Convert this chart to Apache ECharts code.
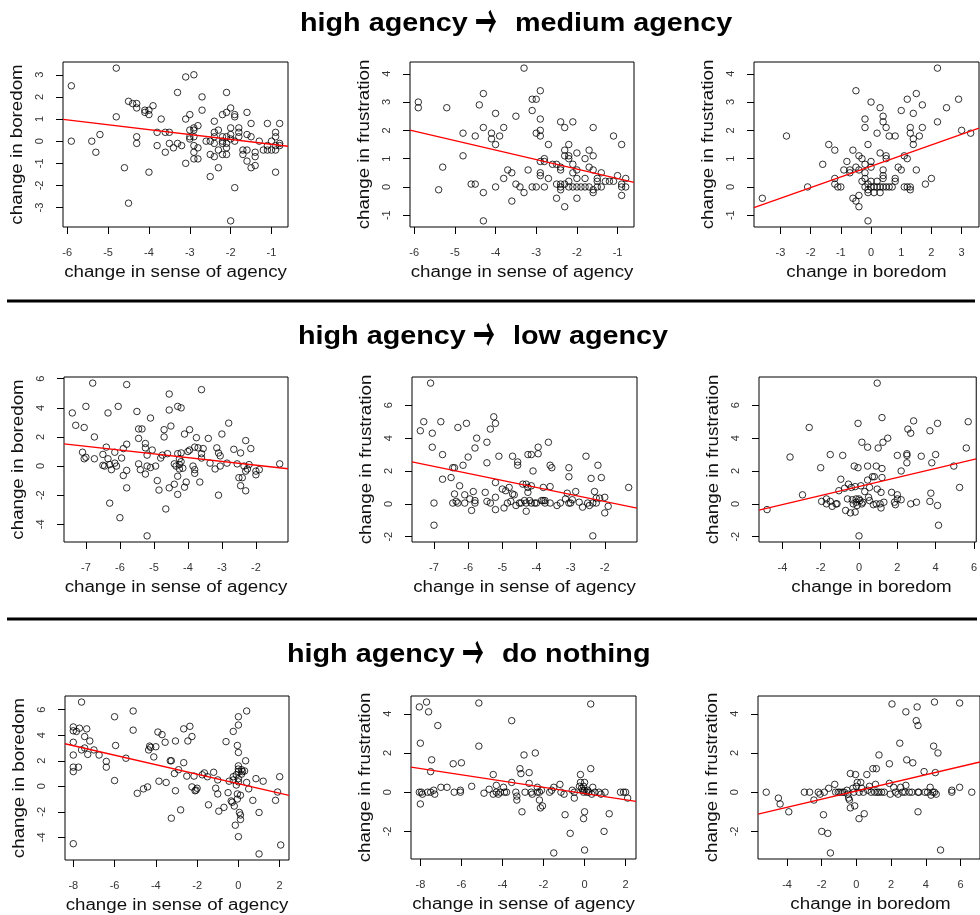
<!DOCTYPE html>
<html><head><meta charset="utf-8">
<script src="https://cdn.jsdelivr.net/npm/echarts@6/dist/echarts.min.js"></script>
<style>html,body{margin:0;padding:0;background:#fff}#c{width:980px;height:915px}</style>
</head><body><div id="c"></div>
<script>
// ---------- data ----------
const sectionStarts = ["high agency", "high agency", "high agency"];
const sectionArrow = "\u2192";
const sectionEnds = ["medium agency", "low agency", "do nothing"];
const xNames = ["change in sense of agency", "change in sense of agency", "change in boredom"];
const yNames = ["change in boredom", "change in frustration", "change in frustration"];

// row 1: high -> medium
const medAgencyBoredom = [[-5.9,2.5],[-5.9,0],[-4.8,3.3],[-4.8,1.1],[-5.4,0],[-5.3,-0.5],[-5.2,0.3],[-4.6,-1.2],[-4.5,1.8],[-4.5,-2.8],[-4.4,1.7],[-4.3,1.7],[-4.3,1.5],[-4.3,0.2],[-4.3,-0.1],[-4.1,1.4],[-4.1,1.3],[-4.0,1.4],[-4.0,1.2],[-3.9,1.6],[-4.0,-1.4],[-3.8,0.4],[-3.8,-0.2],[-3.7,1.0],[-3.6,0.4],[-3.6,-0.5],[-3.5,0.4],[-3.5,-0.1],[-3.4,-0.3],[-3.3,2.2],[-3.3,-0.1],[-3.2,-0.2],[-3.1,2.9],[-3.1,1.0],[-3.1,-1.0],[-3.0,1.2],[-3.0,0.5],[-3.0,0.2],[-3.0,0.1],[-2.9,3.0],[-2.9,0.6],[-2.9,0.5],[-2.9,0.2],[-2.9,-0.2],[-2.9,-0.5],[-2.9,-0.8],[-2.8,0.7],[-2.8,-0.3],[-2.8,-0.8],[-2.7,2.0],[-2.7,1.4],[-2.6,0],[-2.5,0],[-2.5,-0.6],[-2.5,-1.6],[-2.4,0.9],[-2.4,0.4],[-2.4,0.2],[-2.4,-0.1],[-2.4,-0.7],[-2.3,0.5],[-2.3,-0.4],[-2.3,-1.2],[-2.2,1.2],[-2.2,0.2],[-2.2,0],[-2.2,-0.1],[-2.2,-0.6],[-2.1,2.2],[-2.1,1.3],[-2.1,0.2],[-2.1,-0.1],[-2.1,-0.3],[-2.1,-0.6],[-2.0,1.5],[-2.0,0.6],[-2.0,0.3],[-2.0,0.1],[-2.0,-3.6],[-1.9,1.2],[-1.9,1.1],[-1.9,0],[-1.9,-2.1],[-1.8,0.6],[-1.8,0.4],[-1.8,0.2],[-1.7,-0.4],[-1.7,-0.6],[-1.6,1.3],[-1.6,0.3],[-1.6,-0.4],[-1.6,-0.9],[-1.5,0.8],[-1.5,0.2],[-1.5,-1.2],[-1.4,-0.5],[-1.4,-0.7],[-1.4,-1.1],[-1.3,0],[-1.2,-0.4],[-1.1,0.8],[-1.1,-0.2],[-1.1,-0.4],[-1.0,0],[-1.0,-0.4],[-0.9,0.4],[-0.9,0.2],[-0.9,-0.2],[-0.9,-0.4],[-0.9,-1.4],[-0.8,0.8],[-0.8,-0.1],[-0.8,-0.2]];
const medAgencyFrustration = [[-5.9,3.0],[-5.9,2.8],[-5.2,2.8],[-5.3,0.7],[-5.4,-0.1],[-4.8,1.9],[-4.8,1.1],[-4.6,0.1],[-4.5,0.1],[-4.5,1.8],[-4.4,2.9],[-4.3,3.3],[-4.3,2.1],[-4.3,-0.2],[-4.3,-1.2],[-4.1,1.9],[-4.1,1.7],[-4.0,2.6],[-4.0,1.5],[-4.0,0],[-3.9,1.8],[-3.8,2.1],[-3.8,0.3],[-3.7,0.6],[-3.6,0.5],[-3.6,-0.5],[-3.5,2.5],[-3.5,0.1],[-3.4,0],[-3.3,4.2],[-3.3,-0.2],[-3.2,0.6],[-3.1,3.1],[-3.0,3.1],[-3.1,2.7],[-3.1,0],[-3.0,0],[-3.0,1.9],[-2.9,3.4],[-2.9,2.4],[-2.9,2.0],[-2.9,1.8],[-2.9,0.9],[-2.9,0.5],[-2.9,0.4],[-2.8,1.0],[-2.8,0.9],[-2.8,0],[-2.7,1.5],[-2.7,0.3],[-2.6,0.8],[-2.5,0.8],[-2.5,0.1],[-2.5,-0.4],[-2.4,2.3],[-2.4,0.7],[-2.4,0.6],[-2.4,0.1],[-2.4,0],[-2.4,-0.1],[-2.3,2.1],[-2.3,1.3],[-2.3,1.1],[-2.3,0.1],[-2.3,-0.7],[-2.2,1.5],[-2.2,1.1],[-2.2,1.0],[-2.2,0.2],[-2.2,0],[-2.1,2.3],[-2.1,0.8],[-2.1,0.5],[-2.1,0],[-2.0,1.2],[-2.0,0.6],[-2.0,0.3],[-2.0,0],[-2.0,-0.4],[-1.9,0],[-1.8,1.0],[-1.8,0.3],[-1.8,0],[-1.7,1.3],[-1.7,0.7],[-1.7,0],[-1.6,2.1],[-1.6,1.1],[-1.6,0.6],[-1.6,-0.1],[-1.6,-0.2],[-1.5,0.3],[-1.5,0.2],[-1.5,0],[-1.4,0.5],[-1.4,0],[-1.3,0.2],[-1.2,0.2],[-1.1,1.8],[-1.1,0.2],[-1.0,0.4],[-0.9,1.5],[-0.9,0.1],[-0.9,0],[-0.9,-0.3],[-0.8,0.3],[-0.8,0]];
const medBoredomFrustration = [[-3.6,-0.4],[-2.8,1.8],[-2.1,0],[-1.6,0.8],[-1.4,1.5],[-1.2,1.3],[-1.2,0.3],[-1.2,0.1],[-1.1,0],[-1.0,0],[-0.9,0.6],[-0.8,0.9],[-0.7,0.6],[-0.7,0.5],[-0.6,1.3],[-0.6,-0.4],[-0.5,3.4],[-0.5,0.7],[-0.5,-0.5],[-0.4,1.1],[-0.4,0.6],[-0.4,-0.3],[-0.4,-0.7],[-0.3,1.0],[-0.3,0.2],[-0.2,2.4],[-0.2,2.1],[-0.2,0.8],[-0.2,0.5],[-0.2,0.3],[-0.2,0],[-0.1,1.5],[-0.1,0.1],[-0.1,-0.1],[-0.1,-0.2],[-0.1,-1.2],[0,3.0],[0,0.9],[0,0.7],[0,0.2],[0,0],[0.1,0],[0.1,-0.2],[0.2,1.9],[0.2,0.2],[0.2,0],[0.3,2.8],[0.3,1.2],[0.3,0],[0.3,-0.2],[0.4,2.5],[0.4,2.3],[0.4,0.6],[0.4,0.4],[0.4,0.3],[0.4,0],[0.5,2.1],[0.5,1.1],[0.5,1.0],[0.5,0],[0.6,1.8],[0.6,0],[0.7,0],[0.8,1.8],[0.8,0.3],[0.8,0.2],[0.9,0.7],[1.0,2.7],[1.0,0.6],[1.1,1.1],[1.1,0],[1.2,3.1],[1.2,1.0],[1.2,0],[1.3,2.1],[1.3,1.9],[1.3,0],[1.3,-0.1],[1.4,2.6],[1.4,1.7],[1.4,1.5],[1.5,3.3],[1.5,0.6],[1.6,1.8],[1.7,2.9],[1.7,2.1],[1.8,0.1],[2.0,0.3],[2.2,4.2],[2.2,2.3],[2.5,2.8],[2.9,3.1],[3.0,2.0],[3.3,1.9]];

// row 2: high -> low
const lowAgencyBoredom = [[-7.4,3.65],[-7.3,2.8],[-7.1,0.95],[-7.05,0.5],[-7.05,2.65],[-7.0,4.1],[-7.0,0.6],[-6.8,5.7],[-6.75,2.0],[-6.75,0.5],[-6.5,0.8],[-6.5,0.05],[-6.45,0],[-6.4,1.3],[-6.35,3.65],[-6.35,0.5],[-6.3,0.1],[-6.3,-2.55],[-6.25,-0.25],[-6.15,0.95],[-6.15,0.2],[-6.1,0],[-6.05,4.1],[-6.0,-3.55],[-5.95,0.55],[-5.9,-0.65],[-5.9,1.2],[-5.8,5.6],[-5.8,1.5],[-5.8,-0.3],[-5.8,-1.5],[-5.5,3.75],[-5.45,2.55],[-5.35,2.55],[-5.45,1.9],[-5.45,0.15],[-5.4,-0.25],[-5.25,1.25],[-5.25,1.55],[-5.2,0.75],[-5.2,0],[-5.25,-0.55],[-5.2,-4.8],[-5.1,3.3],[-5.1,-0.1],[-5.05,1.1],[-4.95,0],[-4.9,-1.0],[-4.85,-1.65],[-4.8,0.55],[-4.75,0.75],[-4.7,2.0],[-4.7,2.5],[-4.65,-2.95],[-4.6,0.85],[-4.55,-1.5],[-4.55,4.95],[-4.55,3.85],[-4.5,2.75],[-4.4,-1.25],[-4.4,0.15],[-4.35,0],[-4.3,4.1],[-4.3,-0.7],[-4.3,0.85],[-4.3,-1.95],[-4.25,0.5],[-4.25,0.1],[-4.25,-0.2],[-4.2,4.0],[-4.2,0.9],[-4.2,0.3],[-4.15,-0.15],[-4.1,-1.45],[-4.1,2.2],[-4.05,-1.1],[-4.0,1.0],[-3.95,1.1],[-3.95,2.5],[-3.85,0],[-3.8,-0.25],[-3.8,-0.5],[-3.8,1.3],[-3.75,1.95],[-3.7,1.25],[-3.65,-1.1],[-3.6,0.55],[-3.6,0.85],[-3.6,5.25],[-3.55,1.2],[-3.4,1.9],[-3.35,0.2],[-3.2,-0.2],[-3.15,1.25],[-3.1,0.9],[-3.1,-2.0],[-3.05,0.7],[-3.05,0],[-3.0,2.2],[-2.85,0.2],[-2.8,2.95],[-2.65,1.15],[-2.55,0.15],[-2.5,-0.8],[-2.45,-1.35],[-2.45,0.9],[-2.4,-0.8],[-2.35,0],[-2.3,1.75],[-2.3,-1.7],[-2.3,-0.35],[-2.25,-0.2],[-2.2,0.1],[-2.15,1.2],[-2.0,-0.35],[-2.0,-0.6],[-1.9,-0.25],[-1.3,0.15]];
const lowAgencyFrustration = [[-7.1,7.35],[-7.4,4.45],[-7.3,5.0],[-7.05,4.3],[-7.05,3.45],[-7.0,0.05],[-7.0,-1.3],[-6.8,5.0],[-6.75,3.0],[-6.75,1.5],[-6.5,1.6],[-6.45,2.2],[-6.45,0.05],[-6.4,2.2],[-6.4,0.6],[-6.35,0.15],[-6.3,0.05],[-6.3,4.65],[-6.25,1.1],[-6.15,2.35],[-6.1,0.55],[-6.1,0.05],[-6.05,4.9],[-6.0,2.85],[-5.95,0.3],[-5.9,-0.4],[-5.85,0.75],[-5.8,0.2],[-5.8,0.05],[-5.8,3.4],[-5.75,4.0],[-5.5,0.7],[-5.45,2.5],[-5.45,3.75],[-5.45,0.15],[-5.35,0.05],[-5.35,4.55],[-5.25,5.3],[-5.2,4.9],[-5.2,1.3],[-5.2,0.4],[-5.2,-0.35],[-5.1,2.9],[-5.0,0.9],[-4.9,0.8],[-4.95,-0.25],[-4.85,0.05],[-4.8,1.0],[-4.7,2.9],[-4.7,0.6],[-4.65,0.55],[-4.75,0.15],[-4.6,-0.1],[-4.55,2.55],[-4.55,2.35],[-4.5,0.05],[-4.45,0.05],[-4.4,1.2],[-4.3,1.2],[-4.35,0.2],[-4.3,0.05],[-4.3,-0.45],[-4.25,1.0],[-4.25,0.7],[-4.25,3.0],[-4.2,0.2],[-4.15,0.05],[-4.15,3.0],[-4.15,1.1],[-4.1,2.0],[-4.05,0.05],[-4.0,0.05],[-3.95,3.05],[-3.95,3.45],[-3.85,0.2],[-3.8,0.2],[-3.8,1.0],[-3.75,0.2],[-3.75,0.05],[-3.65,3.75],[-3.6,2.35],[-3.6,1.05],[-3.6,0.05],[-3.55,2.2],[-3.4,-0.1],[-3.3,0.05],[-3.15,0.3],[-3.1,0.65],[-3.05,2.2],[-3.05,1.65],[-3.05,0.05],[-3.0,0.05],[-2.95,0.25],[-2.85,0.75],[-2.75,0.1],[-2.65,-0.2],[-2.5,0.05],[-2.45,-0.1],[-2.55,2.9],[-2.4,1.55],[-2.35,-1.95],[-2.35,0.05],[-2.3,0.75],[-2.25,0.35],[-2.2,2.35],[-2.25,0.05],[-2.15,0.35],[-2.1,1.6],[-2.0,-0.55],[-2.0,0.4],[-1.9,-0.15],[-1.3,1.0]];
const lowBoredomFrustration = [[-4.8,-0.35],[-3.6,2.85],[-2.95,0.55],[-2.6,4.65],[-2.0,2.2],[-1.95,0.15],[-1.7,0.3],[-1.7,0],[-1.5,3.0],[-1.5,0.15],[-1.4,-0.15],[-1.2,0],[-1.15,0],[-0.95,1.5],[-0.85,2.95],[-1.05,0.8],[-0.75,0.95],[-0.7,-0.4],[-0.6,0.3],[-0.55,1.2],[-0.45,-0.55],[-0.4,1.0],[-0.35,0.25],[-0.3,0],[-0.25,2.3],[-0.2,-0.5],[-0.2,1.05],[-0.15,0.3],[-0.15,0.1],[-0.1,-0.1],[-0.05,4.9],[-0.05,2.2],[0,0.3],[0.05,0.2],[0,-1.95],[0.1,1.1],[0.15,3.75],[0.15,0],[0.2,0.1],[0.3,0.75],[0.45,2.3],[0.45,3.45],[0.45,1.45],[0.5,0.4],[0.55,0.2],[0.55,1.0],[0.7,1.65],[0.8,1.65],[0.75,-0.05],[0.9,0],[0.95,7.35],[0.9,2.3],[0.95,0.9],[1.0,3.4],[1.1,0],[1.15,0.7],[1.15,-0.25],[1.2,2.15],[1.2,1.6],[1.2,5.25],[1.25,3.75],[1.3,0.1],[1.5,4.0],[1.7,0.7],[1.85,0.1],[1.9,-0.05],[2.0,2.95],[2.0,0.55],[2.0,0.3],[2.2,0.25],[2.2,2.0],[2.5,3.05],[2.5,2.95],[2.5,2.5],[2.55,4.55],[2.7,4.3],[2.7,0],[2.85,5.05],[3.0,0.1],[3.25,2.9],[3.7,0.15],[3.7,4.45],[3.75,0.65],[3.8,2.5],[4.0,3.0],[4.1,-0.1],[4.1,4.9],[4.15,-1.3],[4.95,2.3],[5.25,1.0],[5.6,3.4],[5.7,5.0]];

// row 3: high -> do nothing
const nothingAgencyBoredom = [[-8.0,4.65],[-8.0,4.35],[-7.85,4.3],[-8.0,3.45],[-8.0,2.45],[-8.0,1.5],[-8.0,1.15],[-8.0,-4.5],[-7.75,1.5],[-7.7,4.55],[-7.6,6.6],[-7.6,2.85],[-7.45,3.9],[-7.45,3.0],[-7.35,4.5],[-7.3,2.5],[-7.2,3.55],[-7.0,2.85],[-6.75,2.45],[-6.4,1.95],[-6.4,1.5],[-6.0,0.45],[-6.0,5.45],[-5.95,3.2],[-5.45,2.2],[-5.1,5.9],[-5.1,4.4],[-4.9,-0.55],[-4.6,-0.2],[-4.4,-0.05],[-4.35,2.85],[-4.3,3.15],[-4.25,3.05],[-4.1,2.3],[-4.0,3.1],[-3.9,4.25],[-3.85,0.4],[-3.7,4.05],[-3.55,3.45],[-3.5,0.3],[-3.3,2.0],[-3.25,2.0],[-3.25,-2.5],[-3.1,1.0],[-3.05,3.55],[-3.05,-0.35],[-2.9,1.3],[-2.8,-1.85],[-2.65,4.5],[-2.65,1.85],[-2.5,0.8],[-2.45,3.55],[-2.35,4.7],[-2.25,-0.05],[-2.25,3.9],[-2.15,0.8],[-2.1,-0.35],[-2.05,-0.3],[-2.0,-0.15],[-1.75,0.9],[-1.65,1.05],[-1.5,0.75],[-1.45,-1.45],[-1.2,1.1],[-1.1,-0.15],[-1.0,0.5],[-1.0,-0.6],[-0.95,-1.95],[-0.7,-1.65],[-0.6,3.5],[-0.5,-0.5],[-0.45,0.4],[-0.35,-1.15],[-0.3,-1.25],[-0.25,0.75],[-0.25,0.5],[-0.25,4.3],[-0.2,-1.55],[-0.15,-3.05],[-0.1,0.9],[-0.1,0.1],[-0.05,-0.6],[-0.05,-1.0],[-0.05,3.2],[0,2.65],[0,4.8],[0,5.45],[0,1.6],[0,1.35],[0,1.15],[0,0.6],[0,0.35],[0,-3.95],[0.05,-2.05],[0.1,-2.25],[0.1,-2.6],[0.1,-0.7],[0.15,1.3],[0.15,0.95],[0.2,1.15],[0.3,1.2],[0.35,2.0],[0.4,0.3],[0.4,5.9],[0.5,-0.2],[0.7,-1.1],[0.85,0.6],[1.0,-2.05],[1.0,-5.3],[1.2,0.4],[1.8,-1.1],[1.9,-0.45],[2.0,0.75],[2.05,-4.6]];
const nothingAgencyFrustration = [[-8.05,4.35],[-8.0,2.5],[-8.05,0],[-7.95,0],[-7.9,-0.1],[-8.0,-0.6],[-7.7,4.6],[-7.6,4.1],[-7.65,0],[-7.5,0],[-7.45,1.65],[-7.5,1.05],[-7.35,0.1],[-7.3,-0.1],[-7.15,3.4],[-7.0,0.25],[-6.7,0.25],[-6.4,1.45],[-6.35,0],[-6.05,0.1],[-6.05,0],[-6.0,1.5],[-5.5,0.3],[-5.15,4.55],[-5.15,2.35],[-4.9,-0.05],[-4.65,0.15],[-4.45,0.9],[-4.45,-0.1],[-4.3,0.35],[-4.3,0],[-4.2,-0.1],[-4.1,0],[-3.95,0.25],[-3.9,0],[-3.8,0],[-3.55,3.65],[-3.55,0.5],[-3.35,0],[-3.3,-0.2],[-3.3,-0.4],[-3.15,1.2],[-3.1,0.95],[-3.05,-1.0],[-2.95,1.9],[-2.9,0],[-2.7,1.0],[-2.7,0.45],[-2.6,0],[-2.55,-0.1],[-2.4,2.0],[-2.3,0.25],[-2.3,0],[-2.2,0],[-2.1,0.1],[-2.2,-0.4],[-2.15,-0.8],[-2.05,-0.7],[-1.7,0],[-1.6,0.1],[-1.5,0.25],[-1.5,-3.1],[-1.2,0.4],[-1.15,0],[-1.0,-0.1],[-0.95,-1.15],[-0.7,-2.1],[-0.6,0.1],[-0.5,0],[-0.5,-0.3],[-0.25,0.3],[-0.2,0.9],[-0.2,0.5],[-0.15,0.2],[-0.1,0.1],[-0.05,0.3],[-0.05,0],[0,0.1],[-0.05,-1.35],[0,-1.0],[0,-2.95],[0,0.5],[0.1,0],[0.15,0.1],[0.2,0],[0.3,1.2],[0.3,4.5],[0.35,-0.1],[0.4,0.25],[0.5,0],[0.7,0],[0.8,-0.1],[1.0,0],[0.95,-2.0],[1.2,-1.1],[1.75,0],[1.9,0],[2.0,0],[2.1,-0.3]];
const nothingBoredomFrustration = [[-5.2,0],[-4.5,-0.3],[-4.4,-0.6],[-3.9,-1.0],[-3.0,0],[-2.7,0],[-2.45,-0.4],[-2.2,0],[-2.1,-0.1],[-1.9,-1.15],[-2.0,-2.0],[-1.85,0],[-1.65,-2.1],[-1.6,0.2],[-1.5,-3.1],[-1.25,0.4],[-1.2,0],[-1.05,0],[-0.95,0],[-0.8,0],[-0.7,0],[-0.55,0.1],[-0.5,-0.1],[-0.45,-0.3],[-0.4,-0.4],[-0.35,0.95],[-0.35,-0.8],[-0.2,0.2],[-0.15,0],[-0.1,-0.7],[-0.05,0.9],[0,0.3],[0.05,0.5],[0.15,0],[0.15,-1.35],[0.25,0.5],[0.3,0.2],[0.4,0],[0.45,-1.1],[0.6,0.9],[0.65,0.1],[0.75,0.3],[0.85,0],[0.95,1.2],[1.15,1.2],[1.05,0],[1.2,0],[1.3,0],[1.45,0],[1.6,0],[1.1,0.4],[1.3,1.9],[1.9,1.45],[1.9,0.45],[1.95,-0.1],[2.05,4.5],[2.15,0.25],[2.25,0],[2.4,-0.1],[2.5,2.5],[2.55,0.25],[2.65,0],[2.8,0],[2.85,4.1],[2.85,0.35],[2.9,1.65],[3.05,0],[3.2,0],[3.25,1.5],[3.45,3.65],[3.5,4.35],[3.55,3.4],[3.55,0],[3.6,0],[3.55,-1.0],[3.9,1.05],[3.95,0],[4.1,0],[4.25,0.25],[4.3,-0.15],[4.4,0],[4.5,0],[4.6,-0.1],[4.45,2.35],[4.5,4.6],[4.55,1.0],[4.7,2.0],[4.85,-2.95],[5.5,0.1],[5.5,0],[5.95,0.25],[5.95,4.55],[6.65,0]];

// fitted lines [intercept, slope]
const fitCoefs = [[-0.36,-0.22],[-0.04,-0.335],[0.73,0.378],[-0.46,-0.259],[-0.71,-0.428],[1.05,0.275],[0.20,-0.373],[-0.07,-0.16],[0.06,0.208]];

// tick labels
const xTicks = [[-6,-5,-4,-3,-2,-1],[-6,-5,-4,-3,-2,-1],[-3,-2,-1,0,1,2,3],
                [-7,-6,-5,-4,-3,-2],[-7,-6,-5,-4,-3,-2],[-4,-2,0,2,4,6],
                [-8,-6,-4,-2,0,2],[-8,-6,-4,-2,0,2],[-4,-2,0,2,4,6]];
const yTicks = [[-3,-2,-1,0,1,2,3],[-1,0,1,2,3,4],[-1,0,1,2,3,4],
                [-4,-2,0,2,4,6],[-2,0,2,4,6],[-2,0,2,4,6],
                [-4,-2,0,2,4,6],[-2,0,2,4],[-2,0,2,4]];

const panelData = [medAgencyBoredom, medAgencyFrustration, medBoredomFrustration,
                   lowAgencyBoredom, lowAgencyFrustration, lowBoredomFrustration,
                   nothingAgencyBoredom, nothingAgencyFrustration, nothingBoredomFrustration];

// ---------- layout ----------
const gridBoxes = [[63,62,225,165],[410,62,224,165],[754,62,225,165],
                   [64,377,224,165],[412,377,225,165],[759,377,225,165],
                   [65,696,224,164],[411,696,225,163],[758,696,225,163]];
const titleStart = [[300,24],[298,337],[287,655]];
const FONT = "'Liberation Sans', Arial, Helvetica, sans-serif";
const STRETCH = 1.17;   // reference text is horizontally wider than the font

function range(vals){
  const mn = Math.min(...vals), mx = Math.max(...vals), d = (mx - mn) * 0.04;
  return [mn - d, mx + d];
}

const grids = [], xAxes = [], yAxes = [], series = [], graphics = [];
panelData.forEach((pts, i) => {
  const [l, t, w, h] = gridBoxes[i];
  grids.push({left: l, top: t, width: w, height: h, show: true, borderColor: '#000', borderWidth: 1, backgroundColor: 'transparent', containLabel: false});
  const xr = range(pts.map(p => p[0]));
  const yr = range(pts.map(p => p[1]));
  const col = i % 3;
  xAxes.push({
    type: 'value', gridIndex: i, min: xr[0], max: xr[1],
    axisLine: {show: false, onZero: false},
    axisTick: {show: true, length: 7, lineStyle: {color: '#000', width: 1}, customValues: xTicks[i]},
    axisLabel: {show: true, fontFamily: FONT, fontSize: 11, color: '#333', margin: 20, customValues: xTicks[i]},
    splitLine: {show: false}
  });
  yAxes.push({
    type: 'value', gridIndex: i, min: yr[0], max: yr[1],
    axisLine: {show: false, onZero: false},
    axisTick: {show: true, length: 7, lineStyle: {color: '#000', width: 1}, customValues: yTicks[i]},
    axisLabel: {show: true, rotate: 90, fontFamily: FONT, fontSize: 11, color: '#333', margin: 18, customValues: yTicks[i]},
    splitLine: {show: false}
  });
  series.push({
    type: 'scatter', xAxisIndex: i, yAxisIndex: i, data: pts,
    symbol: 'circle', symbolSize: 6.5,
    itemStyle: {color: 'rgba(0,0,0,0)', borderColor: '#000', borderWidth: 1},
    emphasis: {disabled: true}, silent: true
  });
  const [a, b] = fitCoefs[i];
  series.push({
    type: 'line', xAxisIndex: i, yAxisIndex: i, symbol: 'none', silent: true,
    data: [[xr[0], a + b * xr[0]], [xr[1], a + b * xr[1]]],
    lineStyle: {color: '#ff0000', width: 1.3}, z: 5
  });
  // axis titles
  graphics.push({type: 'text', x: l + w / 2, y: t + h + 46, scaleX: STRETCH,
    style: {text: xNames[col], font: "16px " + FONT, fill: '#111', align: 'center', verticalAlign: 'middle'}});
  graphics.push({type: 'text', x: l - 45, y: t + h / 2, rotation: Math.PI / 2, scaleX: STRETCH,
    style: {text: yNames[col], font: "16px " + FONT, fill: '#111', align: 'center', verticalAlign: 'middle'}});
});

// section titles: "<start> → <end>"
sectionStarts.forEach((s, k) => {
  const [sx, sy] = titleStart[k];
  graphics.push({type: 'text', x: sx, y: sy, scaleX: 1.15,
    style: {text: s, font: "bold 25px " + FONT, fill: '#000', align: 'left', verticalAlign: 'middle'}});
  graphics.push({type: 'text', x: sx + 186, y: sy - 3, scaleX: 0.72, scaleY: 1.6,
    style: {text: sectionArrow, font: "bold 30px 'Noto Sans CJK SC'", fill: '#000', align: 'center', verticalAlign: 'middle'}});
  graphics.push({type: 'text', x: sx + 215, y: sy, scaleX: 1.15,
    style: {text: sectionEnds[k], font: "bold 25px " + FONT, fill: '#000', align: 'left', verticalAlign: 'middle'}});
});
graphics.push({type: 'line', shape: {x1: 7, y1: 301, x2: 975, y2: 301}, style: {stroke: '#000', lineWidth: 3}});
graphics.push({type: 'line', shape: {x1: 7, y1: 619, x2: 977, y2: 619}, style: {stroke: '#000', lineWidth: 3}});

const chart = echarts.init(document.getElementById('c'), null, {renderer: 'canvas'});
chart.setOption({
  animation: false,
  backgroundColor: '#fff',
  grid: grids, xAxis: xAxes, yAxis: yAxes, series: series,
  graphic: graphics
});
</script>
</body></html>
